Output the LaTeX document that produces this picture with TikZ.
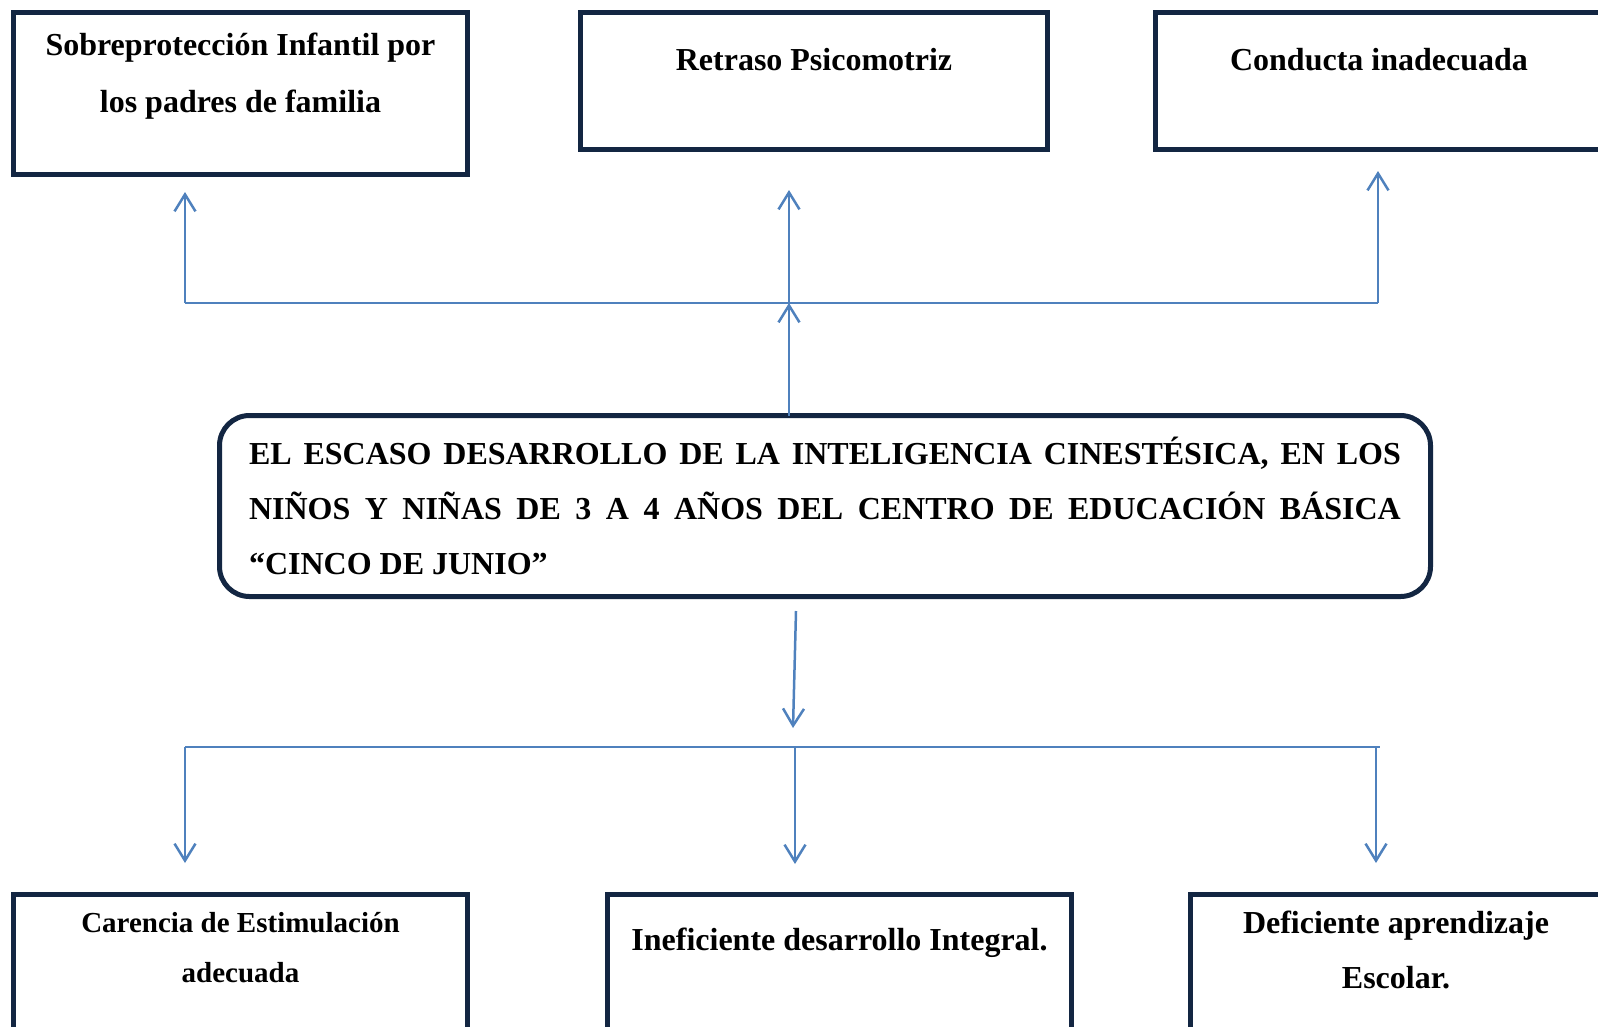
\documentclass[tikz,border=0pt]{standalone}
\usepackage{fontspec}
\setmainfont{Liberation Serif}
\usetikzlibrary{positioning, arrows.meta}
\definecolor{boxnavy}{RGB}{19,38,66}
\definecolor{linkblue}{RGB}{79,129,189}

\begin{document}
\begin{tikzpicture}[x=1pt,y=-1pt,
  box/.style={draw=boxnavy, line width=5pt, inner sep=0pt, outer sep=0pt, anchor=north, align=flush center, font=\fontsize{32}{57}\selectfont\bfseries},
  core/.style={box, rounded corners=30pt, align=justify, inner xsep=29.5pt, font=\fontsize{32}{55}\selectfont\bfseries},
  link/.style={draw=linkblue, line width=2.5pt},
  arr/.style={link, -{Straight Barb[length=17pt,width=21pt]}}]

\useasboundingbox (0,0) rectangle (1598,1026);
\clip (0,0) rectangle (1598,1026);

% Effects
\node[box, text width=454pt, text height=42.5pt, text depth=119.5pt] (sobre) at (240.5,12.5) {Sobreprotección Infantil por\\ los padres de familia};
\node[box, text width=467pt, text height=57.5pt, text depth=79.5pt] (retraso) at (814,12.5) {Retraso Psicomotriz};
\node[box, text width=447pt, text height=57.5pt, text depth=79.5pt] (conducta) at (1379,12.5) {Conducta inadecuada};

% Problem
\node[core, text width=1152pt, text height=48.5pt, text depth=132.5pt] (problema) at (825,415.5) {EL ESCASO DESARROLLO DE LA INTELIGENCIA CINESTÉSICA, EN LOS\linebreak NIÑOS Y NIÑAS DE 3 A 4 AÑOS DEL CENTRO DE EDUCACIÓN BÁSICA\linebreak “CINCO DE JUNIO”};

% Causes
\node[box, text width=454pt, text height=37.5pt, text depth=200pt, font=\fontsize{29}{50}\selectfont\bfseries] (carencia) at (240.5,894.5) {Carencia de Estimulación\\ adecuada};
\node[box, text width=464pt, text height=55.5pt, text depth=200pt] (ineficiente) at (839.5,894.5) {Ineficiente desarrollo Integral.};
\node[box, text width=411pt, text height=38.5pt, text depth=200pt, font=\fontsize{32}{55}\selectfont\bfseries] (deficiente) at (1396,894.5) {Deficiente aprendizaje\\ Escolar.};

% Upper links
\coordinate (upL) at (185,303);
\coordinate (upM) at (789,303);
\coordinate (upR) at (1378,303);
\coordinate (tipL) at (185,192);
\coordinate (tipM) at (789,190);
\coordinate (tipR) at (1378,171);
\draw[link] (upL) -- (upR);
\draw[arr] (problema.north -| upM) -- (upM);
\draw[arr] (upL) -- (tipL);
\draw[arr] (upM) -- (tipM);
\draw[arr] (upR) -- (tipR);

% Lower links
\coordinate (dnstart) at (796,611);
\coordinate (dnend) at (793,728);
\coordinate (dnL) at (185,747);
\coordinate (dnM) at (795,747);
\coordinate (dnR) at (1376,747);
\coordinate (dnbusend) at (1380,747);
\coordinate (endL) at (185,863);
\coordinate (endM) at (795,864);
\coordinate (endR) at (1376,863);
\draw[arr] (dnstart) -- (dnend);
\draw[link] (dnL) -- (dnbusend);
\draw[arr] (dnL) -- (endL);
\draw[arr] (dnM) -- (endM);
\draw[arr] (dnR) -- (endR);

\end{tikzpicture}
\end{document}
